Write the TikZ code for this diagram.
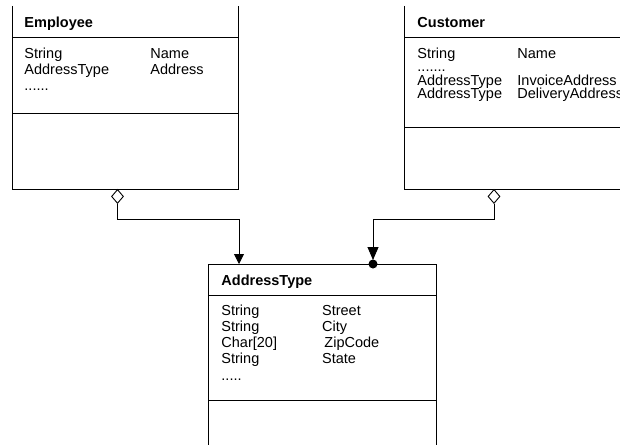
\documentclass[tikz,border=0pt]{standalone}
\usepackage{fontspec}
\setmainfont{Liberation Sans}
\usetikzlibrary{shapes.geometric,arrows.meta}
\begin{document}
\begin{tikzpicture}[x=1pt,y=-1pt,line width=0.9pt,
  txt/.style={anchor=base west,inner sep=0pt,font=\fontsize{14.5}{16.7}\selectfont},
  head/.style={anchor=base west,inner sep=0pt,font=\fontsize{14.5}{16.7}\selectfont\bfseries},
  agg/.style={diamond,draw,fill=white,inner sep=0pt,minimum width=12pt,minimum height=14pt,line width=0.9pt},
  conn/.style={draw,line width=0.9pt}]
\useasboundingbox (0,0) rectangle (620,444);
\clip (0,0) rectangle (620,444);

% ---- class Employee ----
\draw (12,6) -- (12,189) -- (238,189) -- (238,6);
\draw (12,37) -- (238,37);
\draw (12,113) -- (238,113);
\node[head] (empName) at (24,28) {Employee};
\node[txt] (empT1) at (24,58) {String};
\node[txt] (empN1) at (150,58) {Name};
\node[txt] (empT2) at (24,74.3) {AddressType};
\node[txt] (empN2) at (150,74.3) {Address};
\node[txt] (empT3) at (24,90.6) {......};

% ---- class Customer ----
\draw (404,6) -- (404,189) -- (640,189);
\draw (404,37) -- (640,37);
\draw (404,127) -- (640,127);
\node[head] (cusName) at (417,28) {Customer};
\node[txt] (cusT1) at (417,58) {String};
\node[txt] (cusN1) at (517,58) {Name};
\node[txt] (cusT2) at (417,71) {.......};
\node[txt] (cusT3) at (417,85) {AddressType};
\node[txt] (cusN3) at (517,85) {InvoiceAddress};
\node[txt] (cusT4) at (417,98) {AddressType};
\node[txt] (cusN4) at (517,98) {DeliveryAddress};

% ---- class AddressType ----
\draw (208,460) -- (208,264) -- (436,264) -- (436,460);
\draw (208,295) -- (436,295);
\draw (208,400) -- (436,400);
\node[head] (adrName) at (221,285) {AddressType};
\node[txt] (adrT1) at (221,315) {String};
\node[txt] (adrN1) at (321.7,315) {Street};
\node[txt] (adrT2) at (221,331.3) {String};
\node[txt] (adrN2) at (321.7,331.3) {City};
\node[txt] (adrT3) at (221,347.6) {Char[20]};
\node[txt] (adrN3) at (324,347.6) {ZipCode};
\node[txt] (adrT4) at (221,363.9) {String};
\node[txt] (adrN4) at (321.7,363.9) {State};
\node[txt] (adrT5) at (221,380.2) {.....};

% ---- aggregations ----
\node[agg,anchor=north] (empAgg) at (117.5,189) {};
\node[agg,anchor=north] (cusAgg) at (494,189) {};
\coordinate (empIn) at (239,264);
\coordinate (cusIn) at (373,264);

\draw[conn,-{Triangle[length=10pt,width=10pt]}] (empAgg.south) -- ++(0,16) -| (empIn);
\draw[conn,-{Triangle[length=13pt,width=11pt]}] (cusAgg.south) -- ++(0,16) -| ([yshift=4pt]cusIn);
\fill (cusIn) circle[radius=4.5pt];
\end{tikzpicture}
\end{document}
